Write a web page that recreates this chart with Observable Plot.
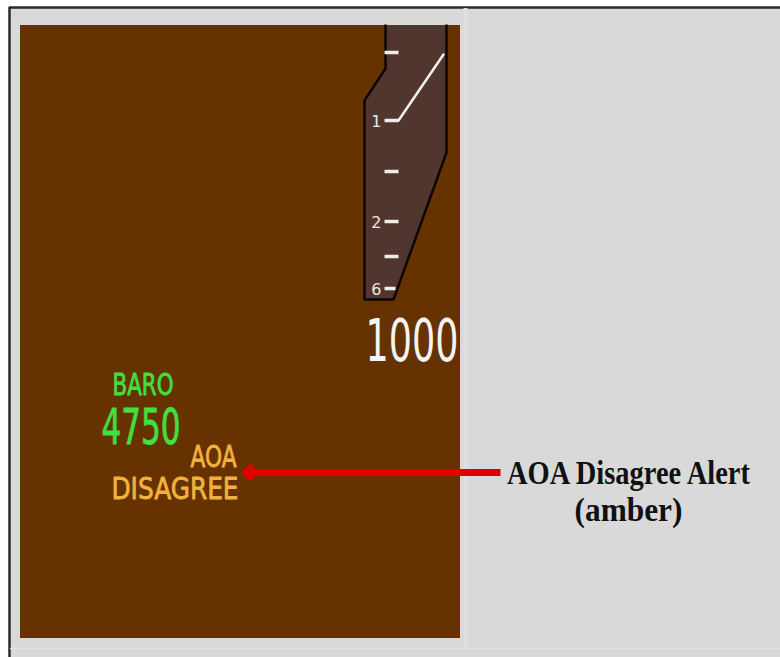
<!DOCTYPE html>
<html>
<head>
<meta charset="utf-8">
<script src="https://cdn.jsdelivr.net/npm/d3@7"></script>
<script src="https://cdn.jsdelivr.net/npm/@observablehq/plot@0.6"></script>
<style>
  html, body { margin: 0; padding: 0; background: #ffffff; }
  #chart svg { display: block; }
</style>
</head>
<body>
<div id="chart"></div>
<script>
// ---- Data (diagram values, in display units) ----
const frameOuter = [{x1: 9, x2: 780, y1: 7, y2: 657}];
const displayPanel = [{x1: 20, x2: 460, y1: 25, y2: 638}];
const tapeOutline = [[385, 25], [385, 68], [364, 100], [364, 299], [393, 299], [446, 152], [446, 25]];
const tapeTickY = [52, 120, 171, 221, 256, 288];
const tapeTickLabels = ["", "1", "", "2", "", "6"];
const vsiPointer = [[398, 120], [443, 54]];
const selectedVS = "1000";
const baroLabel = "BARO";
const baroValue = "4750";
const alertLines = ["AOA", "DISAGREE"];
const calloutLines = ["AOA Disagree Alert", "(amber)"];
const calloutArrow = [{x1: 500, x2: 245, y: 472}];

// ---- Build tables from the arrays ----
const ticks = tapeTickY.map((y, i) => ({y, label: tapeTickLabels[i], x1: 384, x2: i === tapeTickY.length - 1 ? 395 : 398}));
const outlinePts = tapeOutline.map(([x, y]) => ({x, y}));
const pointerPts = vsiPointer.map(([x, y]) => ({x, y}));

const cockpitFont = "DejaVu Sans";
const serifFont = "Liberation Serif";
const endTexts = [
  {x: 458, y: 360, text: selectedVS, fill: "#f4f4f4", size: 58, fit: 93}
];
const startTexts = [
  {x: 112, y: 394, text: baroLabel, fill: "#3fe03f", size: 30, fit: 61},
  {x: 101, y: 443, text: baroValue, fill: "#3fe03f", size: 49, fit: 79},
  {x: 190, y: 466, text: alertLines[0], fill: "#f2b13f", size: 31, fit: 46},
  {x: 111, y: 498, text: alertLines[1], fill: "#f2b13f", size: 31, fit: 127}
];
const middleTexts = [
  {x: 628, y: 483, text: calloutLines[0], fill: "#111111", size: 33, fit: 243},
  {x: 628, y: 520, text: calloutLines[1], fill: "#111111", size: 33, fit: 108}
];

const chart = Plot.plot({
  width: 780,
  height: 657,
  margin: 0,
  x: {type: "linear", domain: [0, 780], range: [0, 780], axis: null},
  y: {type: "linear", domain: [0, 657], range: [0, 657], axis: null},
  style: {background: "#ffffff", overflow: "visible"},
  marks: [
    // outer gray page with dark frame edges
    Plot.rect(frameOuter, {x1: "x1", x2: "x2", y1: "y1", y2: "y2", fill: "#d9d9d9"}),
    Plot.ruleY([7], {x1: 9, x2: 780, stroke: "#2a2a2a", strokeWidth: 2.5}),
    Plot.ruleX([9], {y1: 7, y2: 657, stroke: "#2a2a2a", strokeWidth: 2.5}),
    Plot.ruleY([648], {x1: 10, x2: 780, stroke: "#e2e2e2", strokeWidth: 1.5}),
    Plot.ruleX([465], {y1: 8, y2: 648, stroke: "#e0e0e0", strokeWidth: 4}),
    // brown display panel
    Plot.rect(displayPanel, {x1: "x1", x2: "x2", y1: "y1", y2: "y2", fill: "#663300"}),
    // vertical speed tape
    Plot.line(outlinePts, {x: "x", y: "y", fill: "#513630", stroke: "none", curve: "linear"}),
    Plot.line(outlinePts, {x: "x", y: "y", stroke: "#0d0604", strokeWidth: 2.5, strokeLinejoin: "miter"}),
    Plot.link(ticks, {x1: "x1", x2: "x2", y1: "y", y2: "y", stroke: "#f0ece8", strokeWidth: 3.5}),
    Plot.text(ticks.filter(d => d.label), {x: 381, y: "y", text: "label", fill: "#ece6e2", fontSize: 16, textAnchor: "end", fontFamily: cockpitFont, dy: 1}),
    Plot.line(pointerPts, {x: "x", y: "y", stroke: "#f4f0ec", strokeWidth: 2.5}),
    // callout arrow
    Plot.link(calloutArrow, {x1: "x1", x2: d => d.x2 + 8, y1: "y", y2: "y", stroke: "#e00000", strokeWidth: 7}),
    Plot.arrow(calloutArrow, {x1: d => d.x2 + 20, x2: "x2", y1: "y", y2: "y", stroke: "#e00000", strokeWidth: 7, headLength: 16, headAngle: 80}),
    // labels
    Plot.text(endTexts, {x: "x", y: "y", text: "text", fill: "fill", fontSize: d => d.size, textAnchor: "end", lineAnchor: "bottom", fontFamily: cockpitFont}),
    Plot.text(startTexts, {x: "x", y: "y", text: "text", fill: "fill", stroke: "fill", strokeWidth: 0.8, fontSize: d => d.size, textAnchor: "start", lineAnchor: "bottom", fontFamily: cockpitFont}),
    Plot.text(middleTexts, {x: "x", y: "y", text: "text", fill: "fill", fontSize: d => d.size, textAnchor: "middle", lineAnchor: "bottom", fontFamily: serifFont, fontWeight: "bold"})
  ]
});

// fit condensed display fonts to their measured widths
const fitMap = new Map([...endTexts, ...startTexts, ...middleTexts].map(t => [t.text, t]));
chart.querySelectorAll("text").forEach(el => {
  const t = fitMap.get(el.textContent);
  if (t) {
    el.setAttribute("textLength", t.fit);
    el.setAttribute("lengthAdjust", "spacingAndGlyphs");
  }
});

document.getElementById("chart").appendChild(chart);
</script>
</body>
</html>
